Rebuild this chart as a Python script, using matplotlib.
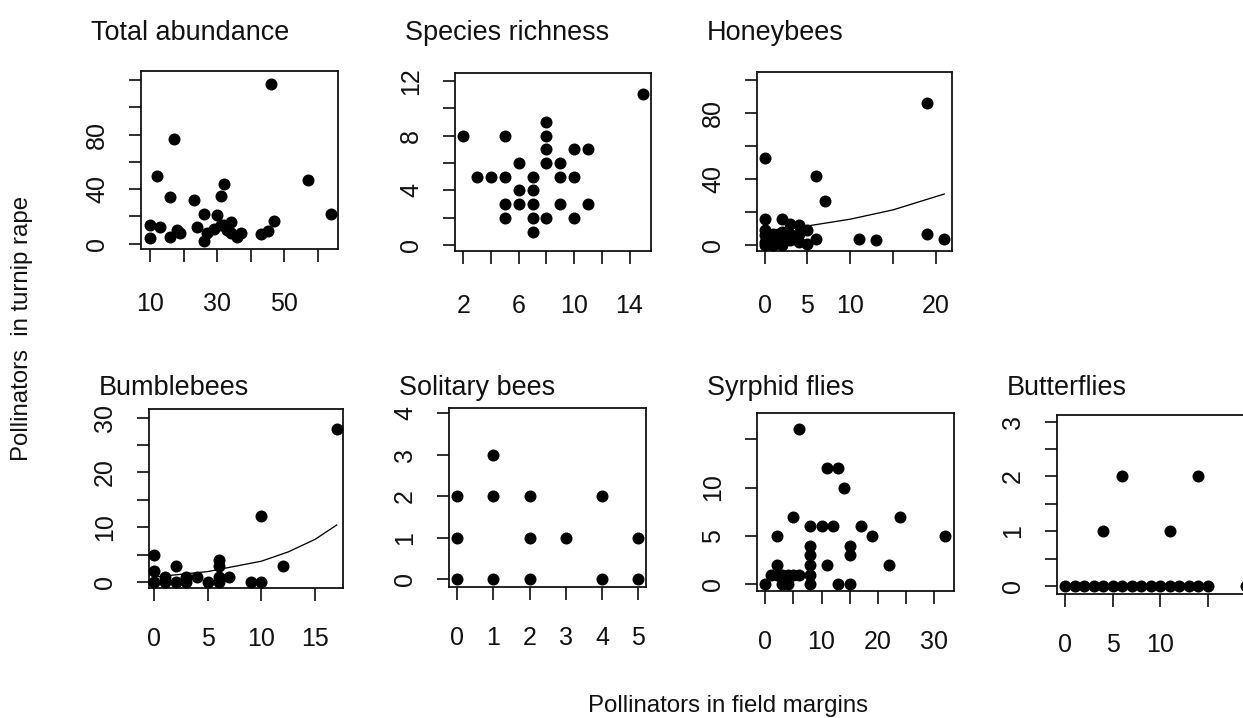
import matplotlib
matplotlib.use('Agg')
import matplotlib.pyplot as plt

plt.rcParams['font.family'] = ['Liberation Sans', 'DejaVu Sans']

W, H, DPI = 1243, 718, 100

titles = ['Total abundance', 'Species richness', 'Honeybees',
          'Bumblebees', 'Solitary bees', 'Syrphid flies', 'Butterflies']

# --- data: x = field margins, y = turnip rape ---
total_x = [10, 10, 12, 13, 16, 16, 17, 18, 19, 23, 24, 26, 26, 27, 29, 30,
           31, 31, 32, 32, 33, 34, 34, 36, 37, 43, 45, 46, 47, 57, 64]
total_y = [14, 4, 50, 12, 34, 5, 77, 10, 8, 32, 12, 22, 2, 8, 11, 21,
           14, 35, 44, 14, 10, 16, 8, 5, 8, 7, 9, 117, 17, 47, 22]

rich_x = [2, 3, 4, 5, 5, 5, 5, 6, 6, 6, 7, 7, 7, 7, 7, 8, 8, 8, 8, 8,
          9, 9, 9, 10, 10, 10, 11, 11, 15]
rich_y = [8, 5, 5, 8, 5, 3, 2, 6, 4, 3, 5, 4, 3, 2, 1, 9, 8, 7, 6, 2,
          6, 5, 3, 7, 5, 2, 7, 3, 11]

honey_x = [0, 0, 0, 0, 0, 0, 1, 1, 1, 2, 2, 2, 2, 3, 3, 3, 4, 4, 4, 5, 5,
           6, 6, 7, 11, 13, 19, 19, 21]
honey_y = [53, 16, 9, 6, 2, 0, 3, 7, 0, 16, 8, 5, 0, 13, 7, 3, 12, 7, 2, 9, 1,
           42, 4, 27, 4, 3, 86, 7, 4]
honey_fit_x = [0, 5, 10, 15, 21]
honey_fit_y = [8.7, 11.7, 15.8, 21.4, 31.0]

bumble_x = [0, 0, 0, 1, 1, 2, 2, 3, 3, 4, 5, 6, 6, 6, 6, 7, 9, 10, 10, 12, 17]
bumble_y = [5, 2, 0, 1, 0, 3, 0, 1, 0, 1, 0, 4, 3, 1, 0, 1, 0, 0, 12, 3, 28]
bumble_fit_x = [0, 5, 10, 12.5, 15, 17]
bumble_fit_y = [0.9, 1.9, 3.8, 5.5, 7.8, 10.4]

solitary_x = [0, 0, 0, 1, 1, 1, 2, 2, 2, 3, 4, 4, 5, 5]
solitary_y = [0, 1, 2, 0, 2, 3, 0, 1, 2, 1, 0, 2, 0, 1]

syrphid_x = [0, 1, 2, 2, 2, 3, 3, 4, 4, 5, 5, 6, 6, 8, 8, 8, 8, 8, 8,
             10, 11, 11, 12, 13, 13, 14, 15, 15, 15, 17, 19, 22, 24, 32]
syrphid_y = [0, 1, 2, 1, 5, 0, 1, 0, 1, 7, 1, 1, 16, 6, 4, 3, 2, 1, 0,
             6, 12, 2, 6, 12, 0, 10, 4, 3, 0, 6, 5, 2, 7, 5]

butter_x = [0, 1, 2, 3, 4, 5, 6, 7, 8, 9, 10, 11, 12, 13, 14, 15, 19,
            4, 6, 11, 14]
butter_y = [0, 0, 0, 0, 0, 0, 0, 0, 0, 0, 0, 0, 0, 0, 0, 0, 0,
            1, 2, 1, 2]

# tick positions and the labels R kept
xticks = [[10, 20, 30, 40, 50, 60], [2, 4, 6, 8, 10, 12, 14], [0, 5, 10, 15, 20],
          [0, 5, 10, 15], [0, 1, 2, 3, 4, 5], [0, 5, 10, 15, 20, 25, 30],
          [0, 5, 10, 15, 20]]
xlabels = [['10', '', '30', '', '50', ''], ['2', '', '6', '', '10', '', '14'],
           ['0', '5', '10', '', '20'], ['0', '5', '10', '15'],
           ['0', '1', '2', '3', '4', '5'], ['0', '', '10', '', '20', '', '30'],
           ['0', '5', '10', '', '']]
yticks = [[0, 20, 40, 60, 80, 100, 120], [0, 2, 4, 6, 8, 10, 12],
          [0, 20, 40, 60, 80, 100], [0, 5, 10, 15, 20, 25, 30],
          [0, 1, 2, 3, 4], [0, 5, 10, 15], [0, 0.5, 1, 1.5, 2, 2.5, 3]]
ylabels = [['0', '', '40', '', '80', '', ''], ['0', '', '4', '', '8', '', '12'],
           ['0', '', '40', '', '80', ''], ['0', '', '10', '', '20', '', '30'],
           ['0', '1', '2', '3', '4'], ['0', '5', '10', ''],
           ['0', '', '1', '', '2', '', '3']]

points = [(total_x, total_y), (rich_x, rich_y), (honey_x, honey_y),
          (bumble_x, bumble_y), (solitary_x, solitary_y),
          (syrphid_x, syrphid_y), (butter_x, butter_y)]
fits = {2: (honey_fit_x, honey_fit_y), 3: (bumble_fit_x, bumble_fit_y)}

# layout in pixels: left, right, top, bottom of each box, then axis limits
boxes = [(141, 338, 71, 249), (455, 651, 73, 251), (757, 952, 72, 251),
         (149, 343, 409, 588), (449, 646, 408, 587), (757, 954, 413, 591),
         (1057, 1273, 415, 594)]
xlims = [(7.3, 66.0), (1.4, 15.55), (-0.9, 21.9), (-0.47, 17.59),
         (-0.22, 5.21), (-1.5, 33.6), (-0.84, 21.84)]
ylims = [(-3.9, 126.7), (-0.42, 12.56), (-3.4, 104.6), (-1.1, 31.6),
         (-0.19, 4.12), (-0.69, 17.7), (-0.146, 3.12)]

pt = 72.0 / DPI
fig = plt.figure(figsize=(W / DPI, H / DPI), dpi=DPI)

for i, (l, r, t, b) in enumerate(boxes):
    ax = fig.add_axes([l / W, 1 - b / H, (r - l) / W, (b - t) / H])
    xs, ys = points[i]
    ax.scatter(xs, ys, s=(12 * pt) ** 2, color='black', zorder=3,
               clip_on=False, linewidths=0)
    if i in fits:
        fx, fy = fits[i]
        ax.plot(fx, fy, color='black', lw=1.3 * pt, zorder=2)
    ax.set_xlim(*xlims[i])
    ax.set_ylim(*ylims[i])
    ax.set_xticks(xticks[i])
    ax.set_xticklabels(xlabels[i])
    ax.set_yticks(yticks[i])
    ax.set_yticklabels(ylabels[i], rotation=90, va='center')
    xpad = 30 if i < 3 else 26
    ax.tick_params(axis='x', length=13 * pt, width=1.7 * pt, pad=xpad * pt,
                   labelsize=25 * pt, colors='#111111')
    ax.tick_params(axis='y', length=12 * pt, width=1.7 * pt, pad=20 * pt,
                   labelsize=25 * pt, colors='#111111')
    for sp in ax.spines.values():
        sp.set_linewidth(1.8 * pt)
        sp.set_color('#111111')
    fig.text((l - 50) / W, 1 - (33 if i < 3 else 388) / H, titles[i],
             ha='left', va='center', fontsize=27 * pt, color='#111111')

fig.text(728 / W, 1 - 706 / H, 'Pollinators in field margins',
         ha='center', va='center', fontsize=24 * pt, color='#111111')
fig.text(22 / W, 1 - 328 / H, 'Pollinators  in turnip rape', rotation=90,
         ha='center', va='center', fontsize=24 * pt, color='#111111')

fig.savefig('out.png', dpi=DPI)
